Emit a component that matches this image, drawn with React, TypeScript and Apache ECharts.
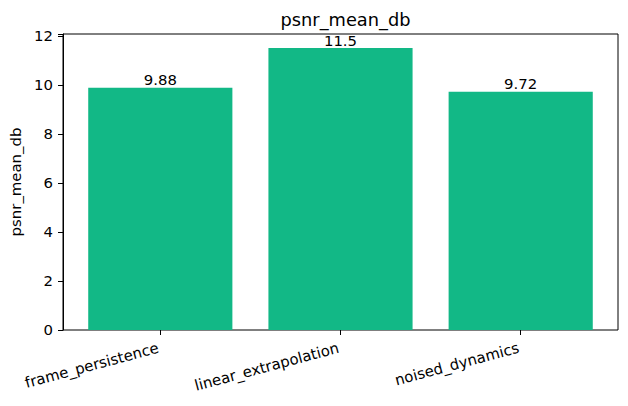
import { useEffect, useRef } from "react";
import * as echarts from "echarts";

// Chart data
const CATEGORIES = ["frame_persistence", "linear_extrapolation", "noised_dynamics"];
const PSNR_MEAN_DB = [9.88, 11.5, 9.72];
const BAR_LABELS = ["9.88", "11.5", "9.72"];
const Y_MAX = 12.075;
const Y_STEP = 2;

const FONT = "DejaVu Sans";
const TICK_FONT = 14.9;

// outer frame (matplotlib axes box)
const FRAME = { left: 63, right: 10, top: 34, bottom: 76 };

export default function App() {
  const chartRef = useRef<HTMLDivElement>(null);

  useEffect(() => {
    if (!chartRef.current) return;
    const chart = echarts.init(chartRef.current, null, { renderer: "svg" });

    // matplotlib xlim for n bars of width 0.8 with 5% margins
    const n = CATEGORIES.length;
    const span = n - 1 + 0.8;
    const xMin = -0.4 - 0.05 * span;
    const xMax = n - 1 + 0.4 + 0.05 * span;
    const frameW = 628 - FRAME.left - FRAME.right;
    const unit = frameW / (xMax - xMin);
    // inner grid whose category centres fall on 0..n-1
    const innerLeft = FRAME.left + (-0.5 - xMin) * unit;
    const innerRight = FRAME.right + (xMax - (n - 0.5)) * unit;
    const barWidth = 0.8 * unit;

    chart.setOption({
      animation: false,
      textStyle: { fontFamily: FONT },
      title: {
        text: "psnr_mean_db",
        left: FRAME.left + frameW / 2,
        top: 5,
        textAlign: "center",
        textStyle: { fontFamily: FONT, fontSize: 17.8, fontWeight: "normal", color: "#000" },
      },
      grid: [
        {
          left: FRAME.left,
          right: FRAME.right,
          top: FRAME.top,
          bottom: FRAME.bottom,
          show: true,
          borderColor: "#000",
          borderWidth: 1,
          backgroundColor: "transparent",
        },
        {
          left: innerLeft,
          right: innerRight,
          top: FRAME.top,
          bottom: FRAME.bottom,
        },
      ],
      xAxis: [
        {
          gridIndex: 0,
          type: "value",
          min: 0,
          max: 1,
          show: false,
        },
        {
          gridIndex: 1,
          type: "category",
          data: CATEGORIES,
          splitLine: { show: false },
          axisLine: { show: false },
          axisTick: {
            show: true,
            alignWithLabel: true,
            length: 5,
            lineStyle: { color: "#000", width: 1 },
          },
          axisLabel: {
            rotate: 15,
            margin: 17,
            padding: [0, 2, 0, 0],
            color: "#000",
            fontSize: TICK_FONT,
            fontFamily: FONT,
            interval: 0,
          },
        },
      ],
      yAxis: [
        {
          gridIndex: 0,
          type: "value",
          min: 0,
          max: Y_MAX,
          interval: Y_STEP,
          name: "psnr_mean_db",
          nameLocation: "middle",
          nameRotate: 90,
          nameGap: 38,
          nameTextStyle: { fontFamily: FONT, fontSize: TICK_FONT, color: "#000" },
          splitLine: { show: false },
          axisLine: { show: true, lineStyle: { color: "#000", width: 1 } },
          axisTick: { show: true, length: 5, lineStyle: { color: "#000", width: 1 } },
          axisLabel: {
            margin: 10,
            color: "#000",
            fontSize: TICK_FONT,
            fontFamily: FONT,
            formatter: (v: number) => (v > 12 ? "" : String(v)),
          },
        },
        {
          gridIndex: 1,
          type: "value",
          min: 0,
          max: Y_MAX,
          show: false,
        },
      ],
      series: [
        {
          type: "bar",
          xAxisIndex: 1,
          yAxisIndex: 1,
          barWidth,
          data: PSNR_MEAN_DB,
          itemStyle: { color: "#12b886" },
          label: {
            show: true,
            position: "top",
            distance: 0,
            color: "#000",
            fontSize: TICK_FONT,
            fontFamily: FONT,
            formatter: (p: any) => BAR_LABELS[p.dataIndex],
          },
        },
      ],
    });

    return () => chart.dispose();
  }, []);

  return <div ref={chartRef} style={{ width: 628, height: 406, margin: -8 }} />;
}
